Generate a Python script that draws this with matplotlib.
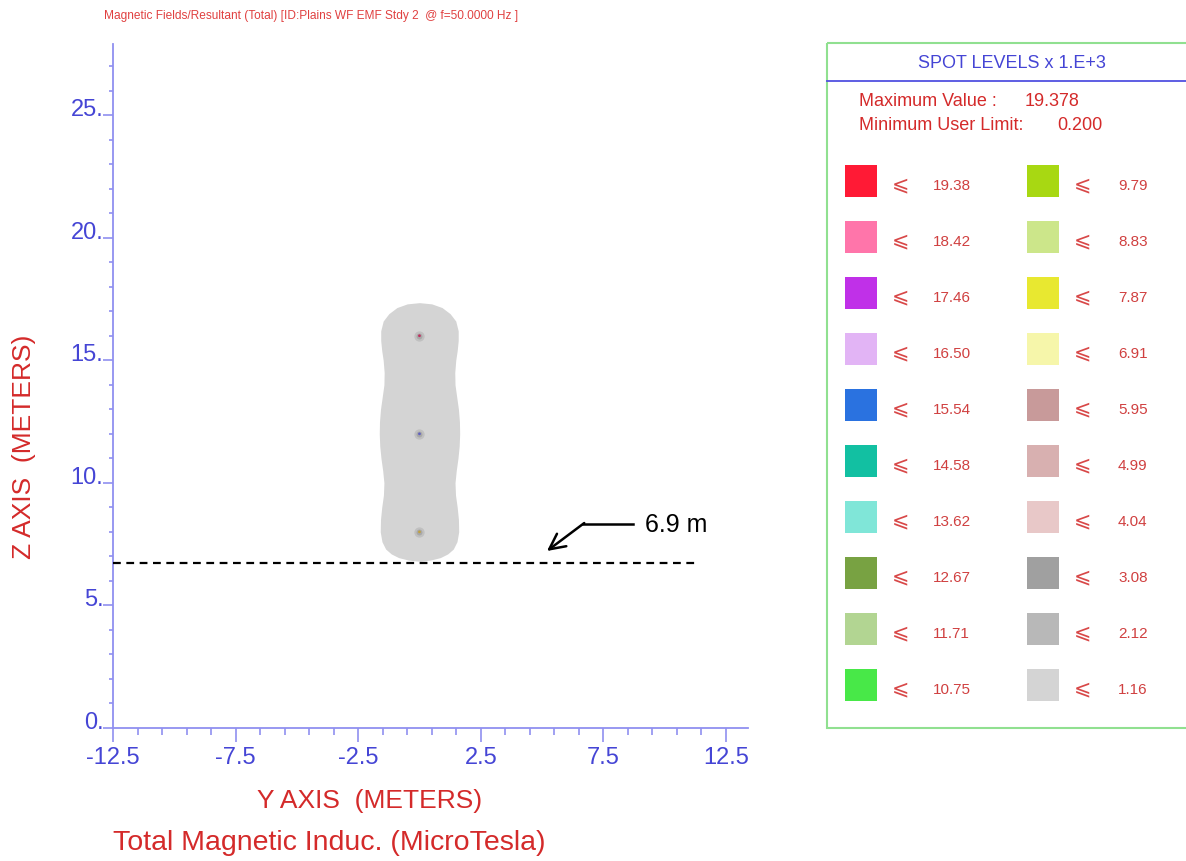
import matplotlib.pyplot as plt
import matplotlib.patches as mpatches
import numpy as np

plt.rcParams["font.family"] = ["Liberation Sans", "DejaVu Sans"]

W, H = 1186, 862

# conductors (lateral position, height) in metres
cond_y = [0.0, 0.0, 0.0]
cond_z = [16.0, 12.0, 8.0]
cond_core = ["#c03060", "#6060c0", "#c0a040"]

# outline of the lowest spot level (height, half width)
blob_z = [17.35, 17.3, 17.15, 16.9, 16.6, 16.2, 15.8, 15.4, 15.0, 14.5, 14.0,
          13.5, 13.0, 12.5, 12.0, 11.5, 11.0, 10.5, 10.0, 9.5, 9.0, 8.5, 8.0,
          7.6, 7.3, 7.1, 6.95, 6.85, 6.8]
blob_hw = [0.0, 0.5, 0.92, 1.25, 1.48, 1.58, 1.58, 1.54, 1.48, 1.44, 1.45,
           1.52, 1.59, 1.63, 1.64, 1.62, 1.57, 1.5, 1.45, 1.47, 1.54, 1.59, 1.6,
           1.53, 1.38, 1.15, 0.85, 0.45, 0.0]

clearance_z = 6.75
clearance_label = "6.9 m"

# spot level legend
levels_left = ["19.38", "18.42", "17.46", "16.50", "15.54",
               "14.58", "13.62", "12.67", "11.71", "10.75"]
colors_left = ["#ff1a35", "#ff75aa", "#c030e8", "#e2b4f5", "#2a72e0",
               "#12c0a2", "#80e6d8", "#78a242", "#b2d592", "#48e848"]
levels_right = ["9.79", "8.83", "7.87", "6.91", "5.95",
                "4.99", "4.04", "3.08", "2.12", "1.16"]
colors_right = ["#a8d812", "#cce68a", "#e8e830", "#f6f6aa", "#c89a9a",
                "#d8b0b0", "#e8c8c8", "#a0a0a0", "#b8b8b8", "#d4d4d4"]
max_value = "19.378"
min_limit = "0.200"

blue = "#4545d5"
red = "#d42a2a"
spine_c = "#9090f0"

fig = plt.figure(figsize=(W / 100, H / 100), dpi=100)
ax = fig.add_axes([113 / W, 1 - 729 / H, (748 - 113) / W, (729 - 45) / H])
ax.set_xlim(-12.5, 13.4)
ax.set_ylim(0, 27.9)

ax.fill_betweenx(blob_z, -np.array(blob_hw), blob_hw, color="#d4d4d4", lw=0, zorder=1)
ax.scatter(cond_y, cond_z, s=55, color="#c0c0c0", lw=0, zorder=2)
ax.scatter(cond_y, cond_z, s=18, color="#a8a8a8", lw=0, zorder=3)
ax.scatter(cond_y, cond_z, s=4, color=cond_core, lw=0, zorder=4)

ax.plot([-12.5, 11.25], [clearance_z, clearance_z], color="black", lw=1.6,
        ls=(0, (3.5, 2.5)), zorder=5)
ax.plot([6.67, 8.71], [8.33, 8.33], color="black", lw=1.8)
ax.annotate("", xy=(5.2, 7.22), xytext=(6.72, 8.36),
            arrowprops=dict(arrowstyle="->", lw=1.8, color="black", mutation_scale=28,
                            shrinkA=0, shrinkB=0))
ax.text(9.2, 8.33, clearance_label, fontsize=18, va="center", ha="left")

for s in ["top", "right"]:
    ax.spines[s].set_visible(False)
for s in ["left", "bottom"]:
    ax.spines[s].set_color(spine_c)
    ax.spines[s].set_linewidth(1.3)

xt = [-12.5, -7.5, -2.5, 2.5, 7.5, 12.5]
ax.set_xticks(xt)
ax.set_xticklabels([f"{v:g}" for v in xt])
ax.set_xticks(np.arange(-11.5, 13.4, 1.0), minor=True)
zt = [0, 5, 10, 15, 20, 25]
ax.set_yticks(zt)
ax.set_yticklabels([f"{v}." for v in zt])
ax.set_yticks(np.arange(1, 28, 1), minor=True)
ax.tick_params(axis="x", which="major", length=10, width=1.2, color=spine_c,
               labelcolor=blue, labelsize=17, pad=3)
ax.tick_params(axis="x", which="minor", length=5, width=1.2, color=spine_c)
ax.tick_params(axis="y", which="major", length=7, width=1.2, color=spine_c,
               labelcolor=blue, labelsize=17, pad=0)
ax.tick_params(axis="y", which="minor", length=3, width=1.2, color=spine_c)
for lbl in ax.get_yticklabels():
    lbl.set_va("baseline")


def ftext(x, y, s, **kw):
    fig.text(x / W, 1 - y / H, s, **kw)


ftext(104, 16, "Magnetic Fields/Resultant (Total) [ID:Plains WF EMF Stdy 2  @ f=50.0000 Hz ]",
      fontsize=8.6, color="#e04040", va="center", ha="left")
ftext(24, 447, "Z AXIS  (METERS)", fontsize=19, color=red, rotation=90,
      va="center", ha="center")
ftext(370, 801, "Y AXIS  (METERS)", fontsize=19, color=red, va="center", ha="center")
ftext(113, 843, "Total Magnetic Induc. (MicroTesla)", fontsize=20.5, color=red,
      va="center", ha="left")

# legend panel in pixel coordinates
lg = fig.add_axes([0, 0, 1, 1])
lg.set_xlim(0, W)
lg.set_ylim(H, 0)
lg.axis("off")
lg.add_patch(mpatches.Rectangle((826.5, 44), 500, 685, fill=False,
                                edgecolor="#90e090", lw=1.5))
lg.plot([826.5, W], [81.5, 81.5], color="#5050e0", lw=1.3)
lg.text(1012, 63, "SPOT LEVELS x 1.E+3", fontsize=13, color=blue,
        ha="center", va="center")
lg.text(859, 101, "Maximum Value :", fontsize=13, color=red, va="center")
lg.text(1025, 101, max_value, fontsize=13, color=red, va="center")
lg.text(859, 126, "Minimum User Limit:", fontsize=13, color=red, va="center")
lg.text(1057, 126, min_limit, fontsize=13, color=red, va="center")

for i in range(len(levels_left)):
    yc = 182 + 56 * i
    for x0, lev, col in [(845, levels_left[i], colors_left[i]),
                         (1027, levels_right[i], colors_right[i])]:
        lg.add_patch(mpatches.Rectangle((x0, yc - 16), 32, 32, facecolor=col,
                                        edgecolor="none"))
        lg.text(x0 + 56, yc + 2, "\u2a7d", fontsize=15, color="#d84848",
                ha="center", va="center", family=["DejaVu Sans"])
        lg.text(x0 + 88 if x0 == 845 else x0 + 91, yc + 4, lev, fontsize=11,
                color="#d04040", va="center", ha="left")

fig.savefig("out.png", dpi=100)
